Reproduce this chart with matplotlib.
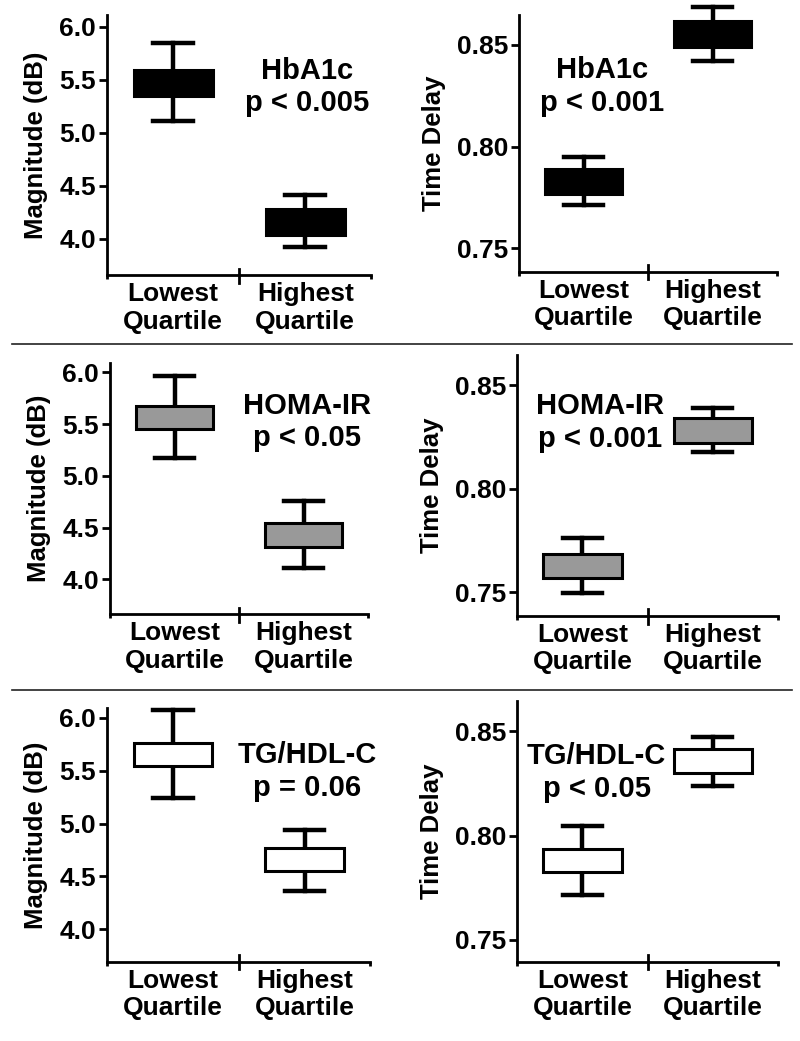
import matplotlib
matplotlib.use("Agg")
import matplotlib.pyplot as plt
from matplotlib.lines import Line2D

plt.rcParams['font.family'] = ['Liberation Sans', 'DejaVu Sans']
plt.rcParams['font.weight'] = 'bold'

groups = ["Lowest\nQuartile", "Highest\nQuartile"]

# box stats per panel: (whisker low, q1, q3, whisker high) for lowest / highest quartile
mag_hba1c = [(5.11, 5.35, 5.59, 5.85), (3.92, 4.04, 4.28, 4.41)]
td_hba1c = [(0.7713, 0.7767, 0.789, 0.7951), (0.8423, 0.8492, 0.8618, 0.8688)]
mag_homa = [(5.175, 5.449, 5.677, 5.964), (4.106, 4.313, 4.545, 4.752)]
td_homa = [(0.7498, 0.7570, 0.7687, 0.7762), (0.8178, 0.8222, 0.834, 0.8388)]
mag_tg = [(5.238, 5.543, 5.764, 6.073), (4.364, 4.55, 4.764, 4.943)]
td_tg = [(0.7716, 0.7825, 0.7936, 0.8046), (0.8237, 0.8297, 0.8412, 0.847)]

annotations = ["HbA1c\np < 0.005", "HbA1c\np < 0.001",
               "HOMA-IR\np < 0.05", "HOMA-IR\np < 0.001",
               "TG/HDL-C\np = 0.06", "TG/HDL-C\np < 0.05"]

mag_ticks = [4.0, 4.5, 5.0, 5.5, 6.0]
td_ticks = [0.75, 0.80, 0.85]
fills = ["black", "#999999", "white"]

fig = plt.figure(figsize=(8, 10.41), dpi=100)

# [left, bottom, width, height] in figure fraction
positions = [
    [0.134, 0.7358, 0.330, 0.2498], [0.649, 0.739, 0.3225, 0.2466],
    [0.1375, 0.4102, 0.3225, 0.2408], [0.6466, 0.4085, 0.326, 0.2504],
    [0.134, 0.0762, 0.329, 0.2434], [0.6466, 0.0762, 0.326, 0.2504],
]
ylims = [(3.66, 6.11), (0.7385, 0.8647), (3.665, 6.087), (0.7387, 0.8645),
         (3.694, 6.089), (0.7396, 0.8644)]
data = [mag_hba1c, td_hba1c, mag_homa, td_homa, mag_tg, td_tg]
text_pos = [(0.758, 0.723), (0.32, 0.7215), (0.764, 0.766),
            (0.317, 0.741), (0.759, 0.75), (0.304, 0.726)]

for i, (pos, stats_in, ylim, note) in enumerate(zip(positions, data, ylims, annotations)):
    ax = fig.add_axes(pos)
    stats = []
    for lo, q1, q3, hi in stats_in:
        stats.append(dict(whislo=lo, q1=q1, med=(q1 + q3) / 2, q3=q3, whishi=hi, fliers=[]))
    bp = ax.bxp(stats, positions=[0, 1], widths=0.6, patch_artist=True,
                showfliers=False,
                boxprops=dict(facecolor=fills[i // 2], edgecolor="black", linewidth=2.2, zorder=3),
                whiskerprops=dict(color="black", linewidth=3.2, zorder=2),
                capprops=dict(color="black", linewidth=3.2, zorder=2),
                medianprops=dict(linewidth=0), capwidths=0.3)
    for art in bp['whiskers'] + bp['caps'] + bp['boxes']:
        art.set_clip_on(False)
    ax.set_xlim(-0.5, 1.5)
    ax.set_ylim(*ylim)
    ax.spines['top'].set_visible(False)
    ax.spines['right'].set_visible(False)
    ax.spines['left'].set_linewidth(2)
    ax.spines['bottom'].set_linewidth(2)

    if i % 2 == 0:
        ax.set_yticks(mag_ticks, [f"{t:.1f}" for t in mag_ticks])
        ax.set_ylabel("Magnitude (dB)", fontsize=18.5, fontweight='bold', labelpad=8)
    else:
        ax.set_yticks(td_ticks, [f"{t:.2f}" for t in td_ticks])
        ax.set_ylabel("Time Delay", fontsize=18.5, fontweight='bold', labelpad=8)
    ax.tick_params(axis='y', labelsize=19, width=2, length=6, pad=2)

    ax.set_xticks([0, 1], groups)
    ax.set_xticks([-0.5, 1.5], minor=True)
    ax.tick_params(axis='x', which='major', length=0, labelsize=19, pad=5)
    ax.tick_params(axis='x', which='minor', length=3, width=2)
    for lab in ax.get_xticklabels() + ax.get_yticklabels():
        lab.set_fontweight('bold')
    for lab in ax.get_xticklabels():
        lab.set_linespacing(1.2)
    # middle separator tick on the x axis
    ax.add_line(Line2D([0.5, 0.5], [-0.03, 0.025], color="black", linewidth=2,
                       transform=ax.get_xaxis_transform(), clip_on=False))

    ax.text(text_pos[i][0], text_pos[i][1], note, transform=ax.transAxes,
            ha='center', va='center', fontsize=21, fontweight='bold', linespacing=1.2)

# horizontal dividers between rows
for y in [1 - 344 / 1041, 1 - 690 / 1041]:
    fig.add_artist(Line2D([0.015, 0.99], [y, y], color="#222222", linewidth=1.2,
                          transform=fig.transFigure))

fig.savefig("out.png", dpi=100)
